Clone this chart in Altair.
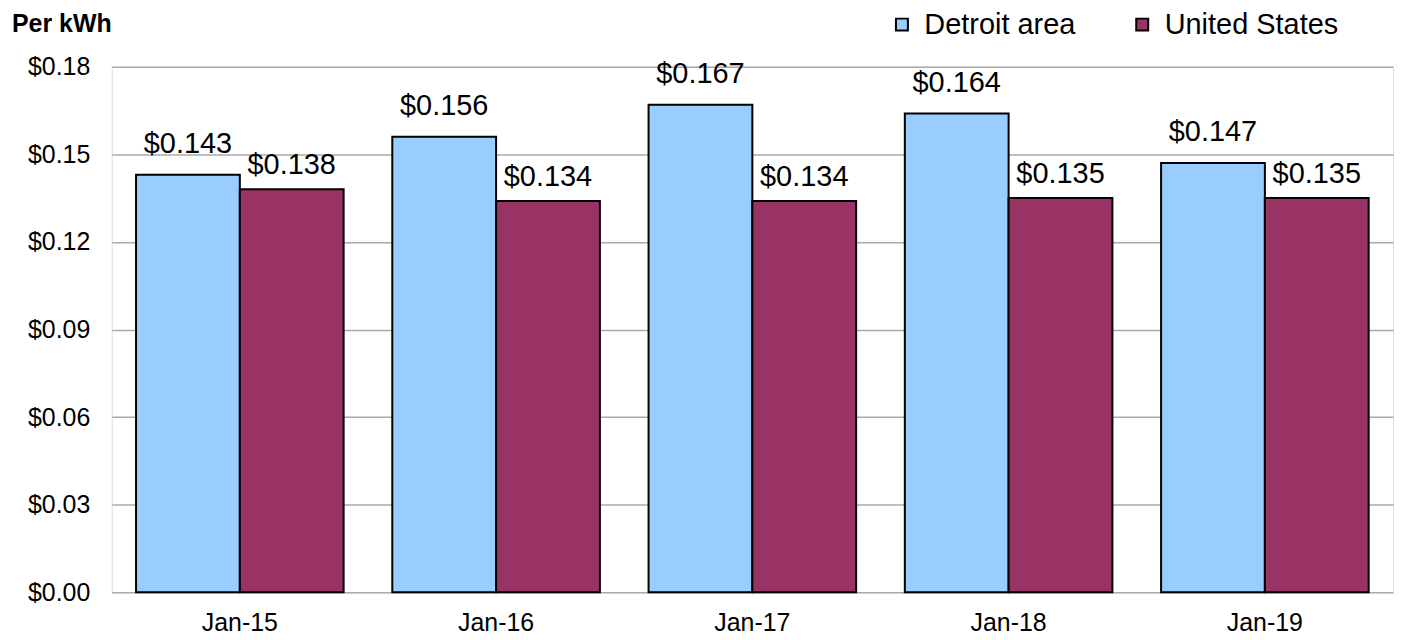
import altair as alt
import pandas as pd

periods = ["Jan-15", "Jan-16", "Jan-17", "Jan-18", "Jan-19"]
series = ["Detroit area", "United States"]
detroit = [0.143, 0.156, 0.167, 0.164, 0.147]
us = [0.138, 0.134, 0.134, 0.135, 0.135]
y_ticks = [0.00, 0.03, 0.06, 0.09, 0.12, 0.15, 0.18]
colors = ["#99CCFF", "#993366"]

rows = []
for p, d, u in zip(periods, detroit, us):
    rows.append({"period": p, "series": series[0], "value": d})
    rows.append({"period": p, "series": series[1], "value": u})
df = pd.DataFrame(rows)

FONT = "Liberation Sans"

x_enc = alt.X("period:N", sort=periods, title=None,
              scale=alt.Scale(paddingInner=0.19, paddingOuter=0.095),
              axis=alt.Axis(labelAngle=0, labelFontSize=25, labelFont=FONT,
                            labelColor="#000000", ticks=False, domain=False,
                            labelPadding=18, grid=False))
xo_enc = alt.XOffset("series:N", sort=series,
                     scale=alt.Scale(paddingInner=0, paddingOuter=0))
y_enc = alt.Y("value:Q", title=None,
              scale=alt.Scale(domain=[0, 0.18], nice=False),
              axis=alt.Axis(values=y_ticks, format="$.2f", labelFontSize=25,
                            labelFont=FONT, labelColor="#000000", ticks=False,
                            domain=False, labelPadding=22, grid=True,
                            gridColor="#AAAAAA", gridWidth=1.5))

base = alt.Chart(df)

bars = base.mark_bar(stroke="#000000", strokeWidth=2).encode(
    x=x_enc,
    xOffset=xo_enc,
    y=y_enc,
    color=alt.Color("series:N", sort=series,
                    scale=alt.Scale(domain=series, range=colors),
                    legend=alt.Legend(title=None, orient="none", legendX=778,
                                      legendY=-57, direction="horizontal",
                                      symbolType="square", symbolSize=144,
                                      symbolStrokeColor="#000000",
                                      symbolStrokeWidth=2, symbolOpacity=1,
                                      labelFontSize=29, labelFont=FONT,
                                      labelColor="#000000", labelOffset=8,
                                      labelLimit=0,
                                      columnPadding=52, padding=0)),
)

labels_d = base.transform_filter(alt.datum.series == series[0]).mark_text(
    baseline="bottom", dy=-16, fontSize=29, font=FONT, color="#000000"
).encode(
    x=alt.X("period:N", sort=periods),
    xOffset=alt.XOffset("series:N", sort=series),
    y="value:Q",
    text=alt.Text("value:Q", format="$.3f"),
)

labels_u = base.transform_filter(alt.datum.series == series[1]).mark_text(
    baseline="bottom", dy=-9, fontSize=29, font=FONT, color="#000000"
).encode(
    x=alt.X("period:N", sort=periods),
    xOffset=alt.XOffset("series:N", sort=series),
    y="value:Q",
    text=alt.Text("value:Q", format="$.3f"),
)

chart = alt.layer(bars, labels_d, labels_u).resolve_scale(
    x="shared", y="shared"
).properties(
    width=1285,
    height=527,
    autosize=alt.AutoSizeParams(type="none"),
    padding={"left": 104, "top": 58, "right": 2, "bottom": 44},
    title=alt.TitleParams(text="Per kWh", anchor="start", fontSize=25,
                          fontWeight="bold", font=FONT, color="#000000",
                          frame="group", dx=-100, offset=-27),
).configure_view(
    stroke="#999999", strokeWidth=2
).configure(background="white")

chart.save("out.html", embed_options={"renderer": "svg", "actions": False})
